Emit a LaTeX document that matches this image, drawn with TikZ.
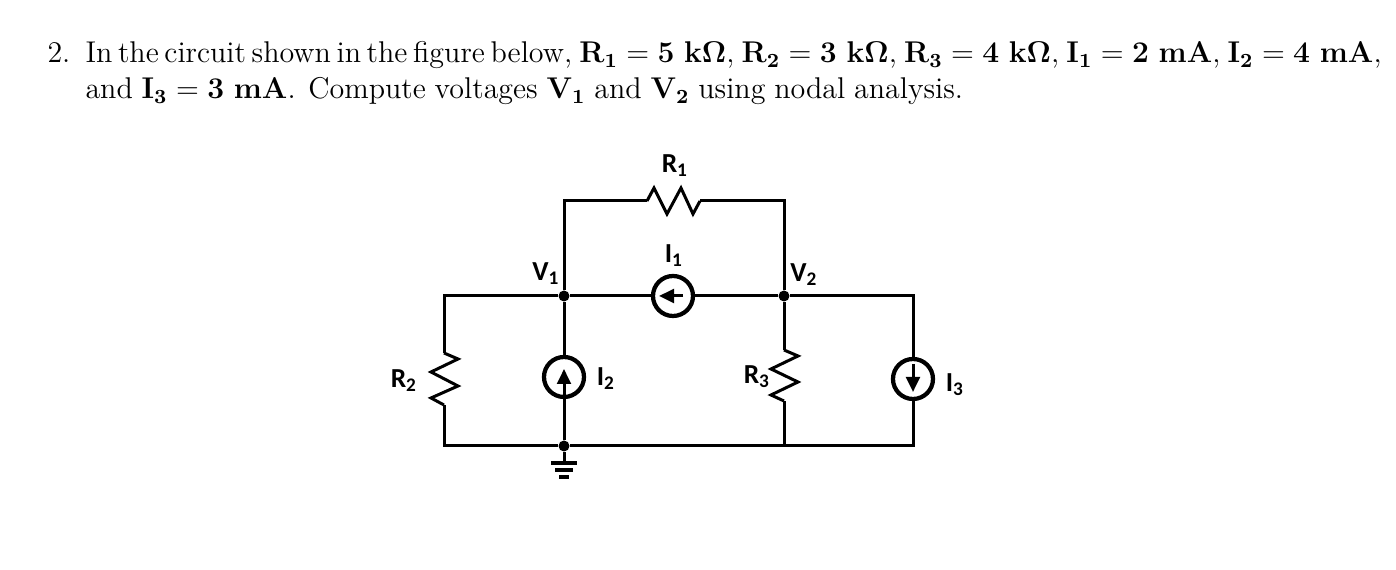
\documentclass[tikz,border=0pt]{standalone}
\usepackage[no-math]{fontspec}
\newfontfamily\labelfont{Carlito}
\usetikzlibrary{arrows.meta}
\tikzset{
  wire/.style={line width=1.2pt,line join=miter},
  srcnode/.style={circle,draw,line width=1.7pt,inner sep=0pt,minimum size=16pt,outer sep=0pt},
  dotnode/.style={circle,fill=black,inner sep=0pt,minimum size=4.4pt},
  lab/.style={font=\labelfont\fontsize{11}{12}\selectfont,inner sep=0pt},
  txt/.style={anchor=base west,inner sep=0pt,font=\fontsize{12}{14}\selectfont},
  srcarrow/.style={line width=1.2pt,-{Triangle[length=6pt,width=5.5pt]}}
}
\newcommand{\lbl}[2]{\textbf{#1\textsubscript{#2}}}
\newcommand{\val}[3]{$\mathbf{#1=#2\ #3}$}
\begin{document}
\begin{tikzpicture}[x=0.4pt,y=-0.4pt]
\useasboundingbox (0,0) rectangle (1396,570);

\node[txt] (num) at (47,63) {2.};
\node[txt] (lineone) at (85,63) {\hbox to 518pt{{\spaceskip=2.25pt In the circuit shown in the figure below,} \val{R_1}{5}{k\Omega}, \val{R_2}{3}{k\Omega}, \val{R_3}{4}{k\Omega}, \val{I_1}{2}{mA}, \val{I_2}{4}{mA},}};
\node[txt] (linetwo) at (85,99) {\hbox to 351pt{and \val{I_3}{3}{mA}. Compute voltages $\mathbf{V_1}$ and $\mathbf{V_2}$ using nodal analysis.}};

% nodes
\node[dotnode] (v1) at (564,296) {};
\node[dotnode] (v2) at (784,296) {};
\node[dotnode] (gnd) at (564,446) {};
\coordinate (tl) at (564,201);
\coordinate (tr) at (784,201);
\coordinate (ml) at (444,296);
\coordinate (mr) at (913,296);
\coordinate (bl) at (444,446);
\coordinate (br) at (913,446);
\coordinate (b3) at (784,446);

% sources
\node[srcnode] (i1) at (673,296) {};
\node[srcnode] (i2) at (564,377) {};
\node[srcnode] (i3) at (913,379) {};
\draw[srcarrow] (i1.east) ++(-10,0) -- ++(-24,0);
\draw[srcarrow] (i2.south) -- ++(0,-28);
\draw[srcarrow] (i3.north) ++(0,5) -- ++(0,28);

% resistors
\coordinate (r1a) at (647,201);
\coordinate (r1b) at (700,201);
\coordinate (r2a) at (444,353);
\coordinate (r2b) at (444,405);
\coordinate (r3a) at (784,350);
\coordinate (r3b) at (784,401);
\draw[wire] (r1a) -- (654,188) -- (667,214) -- (681,188) -- (693,214) -- (r1b);
\draw[wire] (r2a) -- (458,359) -- (431,372) -- (458,386) -- (431,398) -- (r2b);
\draw[wire] (r3a) -- (798,356) -- (771,369) -- (798,382) -- (771,395) -- (r3b);

% wires
\draw[wire] (r2a) -- (ml) -- (v1) -- (i1) -- (v2) -- (mr) -- (i3);
\draw[wire] (r1a) -- (tl) -- (v1) -- (i2) -- (gnd);
\draw[wire] (r1b) -- (tr) -- (v2) -- (r3a);
\draw[wire] (r2b) -- (bl) -- (gnd) -- (b3) -- (br) -- (i3);
\draw[wire] (r3b) -- (b3);

% ground
\coordinate (g1) at (564,463);
\draw[wire] (gnd) -- (g1);
\draw[line width=1.6pt] (g1) ++(-13,0) -- ++(26,0);
\draw[line width=1.6pt] (g1) ++(-9,7) -- ++(18,0);
\draw[line width=1.6pt] (g1) ++(-5,14) -- ++(10,0);

% labels
\node[lab] (lr1) at (675,166) {\lbl{R}{1}};
\node[lab] (li1) at (674,256) {\lbl{I}{1}};
\node[lab] (lv1) at (546,274) {\lbl{V}{1}};
\node[lab] (lv2) at (804,275) {\lbl{V}{2}};
\node[lab] (lr2) at (404,381) {\lbl{R}{2}};
\node[lab] (li2) at (606,379) {\lbl{I}{2}};
\node[lab] (lr3) at (757,377) {\lbl{R}{3}};
\node[lab] (li3) at (955,385) {\lbl{I}{3}};
\end{tikzpicture}
\end{document}
